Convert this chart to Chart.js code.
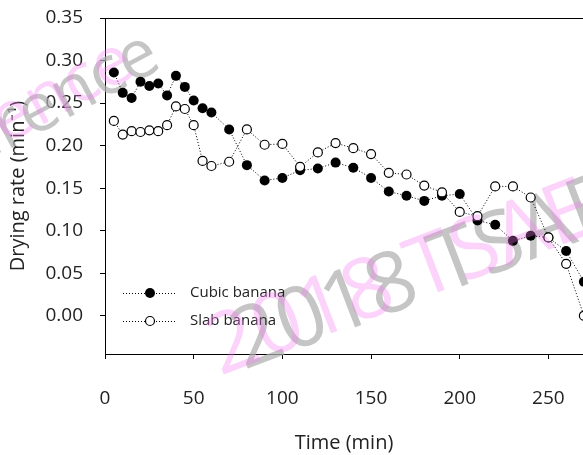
<!DOCTYPE html>
<html>
<head>
<meta charset="utf-8">
<script src="https://cdn.jsdelivr.net/npm/chart.js@4.4.1/dist/chart.umd.min.js"></script>
<style>
  html, body { margin: 0; padding: 0; background: #fff; overflow: hidden; }
</style>
</head>
<body>
<canvas id="dryingChart" width="583" height="455"></canvas>
<script>
// drying time (min)
var times = [5, 10, 15, 20, 25, 30, 35, 40, 45, 50, 55, 60,
             70, 80, 90, 100, 110, 120, 130, 140, 150, 160, 170,
             180, 190, 200, 210, 220, 230, 240, 250, 260, 270];
var cubicRate = [0.286, 0.262, 0.256, 0.275, 0.270, 0.273, 0.259, 0.282, 0.269, 0.253, 0.244, 0.239,
                 0.219, 0.177, 0.159, 0.162, 0.171, 0.173, 0.180, 0.174, 0.162, 0.146, 0.141,
                 0.135, 0.141, 0.143, 0.112, 0.107, 0.088, 0.094, 0.092, 0.076, 0.040];
var slabRate = [0.229, 0.213, 0.217, 0.216, 0.218, 0.217, 0.224, 0.246, 0.243, 0.224, 0.182, 0.176,
                0.181, 0.219, 0.201, 0.202, 0.175, 0.192, 0.203, 0.197, 0.190, 0.168, 0.166,
                0.153, 0.145, 0.122, 0.117, 0.152, 0.152, 0.139, 0.092, 0.061, 0.000];
var seriesNames = ['Cubic banana', 'Slab banana'];
var xTitle = 'Time (min)';
var yTitle = 'Drying rate (min\u207B\u00B9)';

function toPoints(ys) {
    return times.map(function (t, i) { return { x: t, y: ys[i] }; });
}

function watermark(ctx, color, x1, y1, x2, y2) {
    ctx.save();
    ctx.fillStyle = color;
    ctx.font = '84px "Open Sans"';
    ctx.translate(x1, y1);
    ctx.rotate(-21 * Math.PI / 180);
    ctx.fillText('2018 TSAE', 0, 0);
    ctx.restore();
    ctx.save();
    ctx.fillStyle = color;
    ctx.font = '68px "Open Sans"';
    ctx.translate(x2, y2);
    ctx.rotate(-28 * Math.PI / 180);
    ctx.textAlign = 'right';
    ctx.fillText('Conference', 0, 0);
    ctx.restore();
}

// top frame line, legend inside the plot, and the watermark
var framePlugin = {
    id: 'frame',
    beforeDatasetsDraw: function (chart) {
        watermark(chart.ctx, 'rgba(175,175,175,0.72)', 244, 370, 164, 67);
    },
    afterDraw: function (chart) {
        var ctx = chart.ctx;
        var a = chart.chartArea;
        ctx.save();
        ctx.strokeStyle = '#000';
        ctx.lineWidth = 1;
        ctx.beginPath();
        ctx.moveTo(a.left, a.top + 0.5);
        ctx.lineTo(a.right, a.top + 0.5);
        ctx.stroke();

        // legend
        var rows = [293, 321];
        rows.forEach(function (y, i) {
            ctx.setLineDash([1, 2]);
            ctx.lineWidth = 1;
            ctx.beginPath();
            ctx.moveTo(123, y + 0.5);
            ctx.lineTo(176, y + 0.5);
            ctx.stroke();
            ctx.setLineDash([]);
            ctx.beginPath();
            if (i === 0) {
                ctx.arc(150, y, 5, 0, Math.PI * 2);
                ctx.fillStyle = '#000';
                ctx.fill();
            } else {
                ctx.arc(150, y, 4.5, 0, Math.PI * 2);
                ctx.fillStyle = '#fff';
                ctx.fill();
                ctx.lineWidth = 1.2;
                ctx.stroke();
            }
            ctx.fillStyle = '#222';
            ctx.font = '15px "Open Sans"';
            ctx.textBaseline = 'middle';
            ctx.fillText(seriesNames[i], 190, y);
        });
        ctx.restore();

        // pink layer of the watermark
        watermark(ctx, 'rgba(245,120,240,0.33)', 220, 376, 138, 74);
    }
};

var ctx = document.getElementById('dryingChart').getContext('2d');
var dryingChart = new Chart(ctx, {
    type: 'line',
    data: {
        datasets: [{
            label: seriesNames[1],
            data: toPoints(slabRate),
            order: 0,
            borderColor: '#000',
            borderWidth: 1,
            borderDash: [1, 2],
            pointRadius: 4.5,
            pointBorderWidth: 1.2,
            pointBackgroundColor: '#fff',
            pointBorderColor: '#000',
            clip: false
        }, {
            label: seriesNames[0],
            data: toPoints(cubicRate),
            order: 1,
            borderColor: '#000',
            borderWidth: 1,
            borderDash: [1, 2],
            pointRadius: 5,
            pointBorderWidth: 0,
            pointBackgroundColor: '#000',
            pointBorderColor: '#000',
            clip: false
        }]
    },
    options: {
        responsive: false,
        animation: false,
        layout: { autoPadding: false, padding: { top: 18, right: 0, left: 0, bottom: 0 } },
        plugins: {
            legend: { display: false },
            tooltip: { enabled: false }
        },
        scales: {
            x: {
                type: 'linear',
                position: 'bottom',
                min: 0,
                max: 269.5,
                afterFit: function (scale) {
                    scale.height = 101;
                    scale.paddingLeft = 0;
                    scale.paddingRight = 0;
                },
                border: { color: '#000', width: 1 },
                grid: { drawOnChartArea: false, drawTicks: true, tickLength: 5, tickColor: '#000' },
                ticks: {
                    stepSize: 50,
                    includeBounds: false,
                    padding: 28,
                    color: '#222',
                    font: { family: 'Open Sans', size: 19 }
                },
                title: {
                    display: true,
                    text: xTitle,
                    color: '#222',
                    font: { family: 'Open Sans', size: 20 },
                    padding: { top: 0, bottom: 0 }
                }
            },
            y: {
                min: -0.045,
                max: 0.35,
                afterFit: function (scale) {
                    scale.width = 105;
                    scale.paddingTop = 0;
                    scale.paddingBottom = 0;
                },
                border: { color: '#000', width: 1 },
                grid: { drawOnChartArea: false, drawTicks: true, tickLength: 5, tickColor: '#000' },
                ticks: {
                    stepSize: 0.05,
                    includeBounds: false,
                    padding: 17,
                    color: '#222',
                    font: { family: 'Open Sans', size: 19 },
                    callback: function (v) { return v.toFixed(2); }
                },
                title: {
                    display: true,
                    text: yTitle,
                    color: '#222',
                    font: { family: 'Open Sans', size: 20 },
                    padding: { top: 6, bottom: 0 }
                }
            }
        }
    },
    plugins: [framePlugin]
});
</script>
</body>
</html>
